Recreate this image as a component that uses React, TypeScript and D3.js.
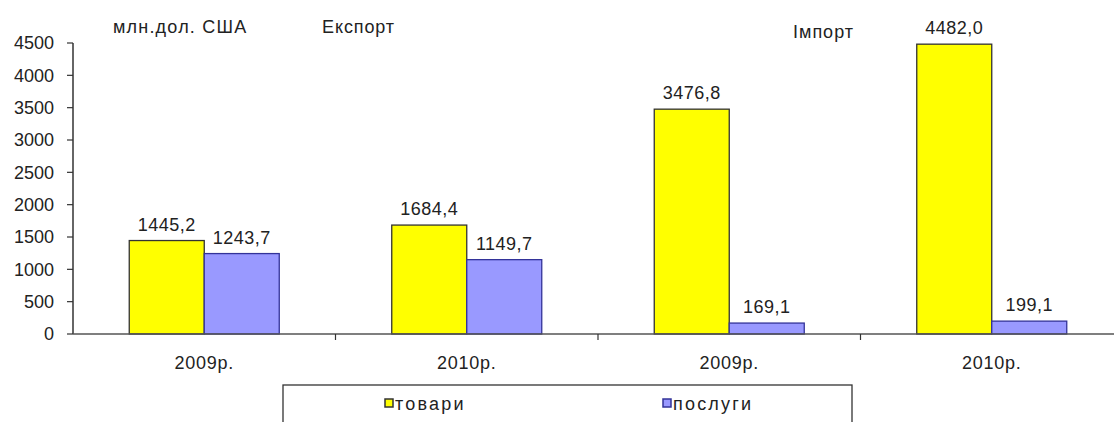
import React from 'react';
import * as d3 from 'd3';

const categories = ['2009р.', '2010р.', '2009р.', '2010р.'];
const goods = [1445.2, 1684.4, 3476.8, 4482.0];
const services = [1243.7, 1149.7, 169.1, 199.1];
const seriesNames = ['товари', 'послуги'];
const yTicks = [0, 500, 1000, 1500, 2000, 2500, 3000, 3500, 4000, 4500];

const W = 1114;
const H = 422;
const font = 'Liberation Sans, Arial, sans-serif';
const fs = 18;

const fills = ['#ffff00', '#9999ff'];
const strokes = ['#333333', '#333399'];

const fmt = (v: number) => d3.format('.1f')(v).replace('.', ',');

export default function App() {
  const x = d3.scaleBand<number>()
    .domain(d3.range(categories.length))
    .range([73, 73 + 262.5 * categories.length])
    .paddingInner(0)
    .paddingOuter(0);

  const sub = d3.scaleBand<string>()
    .domain(seriesNames)
    .range([0, x.bandwidth()])
    .paddingInner(0)
    .paddingOuter(0.75);

  const y = d3.scaleLinear().domain([0, 4500]).range([334, 43]);

  const series = [goods, services];

  return (
    <svg width={W} height={H} style={{ position: 'absolute', left: 0, top: 0, background: '#fff' }}
      fontFamily={font} fontSize={fs}>
      <rect x={0} y={0} width={W} height={H} fill="#fff" />

      {/* titles */}
      <g fill="#222">
        <text x={113} y={33} letterSpacing={1.2}>млн.дол. США</text>
        <text x={322} y={33} letterSpacing={0.9}>Експорт</text>
        <text x={793} y={38} letterSpacing={1}>Імпорт</text>
      </g>

      {/* y axis */}
      <line x1={73} x2={73} y1={y(4500)} y2={y(0)} stroke="#333" strokeWidth={1.5} />
      {yTicks.map(t => (
        <g key={t}>
          <line x1={67} x2={73} y1={y(t)} y2={y(t)} stroke="#333" strokeWidth={1.2} />
          <text x={54} y={y(t)} dy="0.36em" textAnchor="end" fill="#222">{t}</text>
        </g>
      ))}

      {/* bars */}
      {categories.map((c, i) => (
        <g key={i}>
          {series.map((s, j) => {
            const bx = (x(i) as number) + (sub(seriesNames[j]) as number);
            const bw = sub.bandwidth();
            return (
              <g key={j}>
                <rect x={bx} y={y(s[i])} width={bw} height={y(0) - y(s[i])}
                  fill={fills[j]} stroke={strokes[j]} strokeWidth={1.3} />
                <text x={bx + bw / 2} y={y(s[i]) - 10} textAnchor="middle" letterSpacing={0.5} fill="#222">{fmt(s[i])}</text>
              </g>
            );
          })}
          <text x={(x(i) as number) + x.bandwidth() / 2} y={369} textAnchor="middle" letterSpacing={0.7} fill="#222">{c}</text>
        </g>
      ))}

      {/* x axis */}
      <line x1={73} x2={W} y1={y(0)} y2={y(0)} stroke="#555" strokeWidth={1.6} />
      {d3.range(1, categories.length).map(i => (
        <line key={i} x1={x(i) as number} x2={x(i) as number} y1={y(0)} y2={y(0) + 6} stroke="#333" strokeWidth={1.2} />
      ))}

      {/* legend */}
      <rect x={283} y={385} width={569} height={60} fill="#fff" stroke="#333" strokeWidth={1.3} />
      {seriesNames.map((n, j) => {
        const lx = [385, 663][j];
        return (
          <g key={n}>
            <rect x={lx} y={399} width={8} height={8} fill={fills[j]} stroke={strokes[j]} strokeWidth={1.5} />
            <text x={lx + 10} y={410} letterSpacing={2.2} fill="#222">{n}</text>
          </g>
        );
      })}
    </svg>
  );
}
